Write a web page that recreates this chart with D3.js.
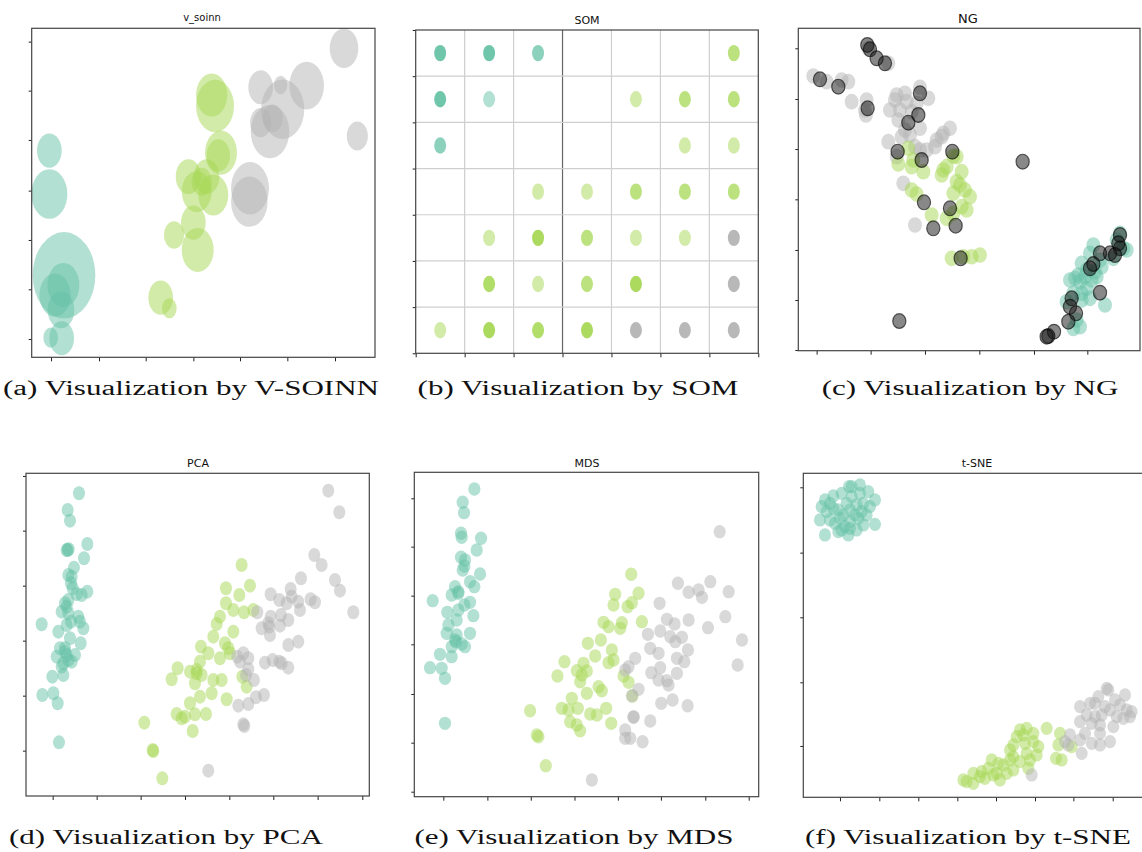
<!DOCTYPE html>
<html lang="en">
<head>
<meta charset="UTF-8">
<title>Visualization by V-SOINN, SOM, NG, PCA, MDS and t-SNE</title>
<script src="https://d3js.org/d3.v7.min.js"></script>
<style>
  body { margin: 0; background: #fff; }
  .panel-title { font-family: "DejaVu Sans", sans-serif; font-size: 11px; fill: #111; text-anchor: middle; }
  .caption { font-family: "Liberation Serif", serif; font-size: 20px; fill: #111; text-anchor: middle; }
  .tick line { stroke: #222; }
</style>
</head>
<body>
<svg id="fig" width="1142" height="852"></svg>
<script>
// class colours (setosa, versicolor, virginica)
const teal = "#66c2a5", green = "#a6d854", gray = "#b3b3b3";

// (a) v_soinn nodes: [x, y, weight]
const soinnTeal = [[14.8,64.8,13.7],[14.8,51.8,29.2],[19.2,27.4,88.4],[19.0,24.5,23],[16.5,21.5,22],[18.3,17.0,16],[18.5,8.5,13.7],[15.2,8.7,4.8]];
const soinnGreen = [[63.5,81.5,22],[64.5,78.2,32.5],[66.3,64.2,23],[65.5,63.4,12.3],[56.5,57.0,14.4],[62.0,57.0,14.4],[59.0,52.5,20],[64.0,51.5,20],[58.0,43.2,13.7],[52.2,39.5,9],[59.3,35.0,23],[48.2,20.7,13.7],[50.8,17.5,4.8],[60.5,55.5,9]];
const soinnGray = [[103.2,95.5,18.5],[78.2,83.8,13.7],[84.2,84.5,4],[92.0,84.3,27],[84.8,77.2,42],[81.0,70.5,33.6],[78.2,73.2,10],[81.8,74.5,9],[107.2,69.2,10],[75.0,53.5,32.5],[74.8,49.5,30]];
const soinnXTicks = [15.3,29.7,43.7,58.0,72.0,86.2,100.5];
const soinnYTicks = [8.3,23.2,38.0,52.8,68.0,82.8,97.5];

// (b) SOM map cells: [col, row, hits]
const somTeal = [[0,0,4],[1,0,4],[2,0,2],[0,1,4],[1,1,1],[0,2,2]];
const somGreen = [[6,0,2],[4,1,1],[5,1,2],[6,1,2],[5,2,1],[6,2,1],[2,3,1],[3,3,1],[4,3,2],[5,3,2],[6,3,2],[1,4,1],[2,4,4],[3,4,2],[4,4,1],[5,4,1],[1,5,3],[2,5,1],[3,5,2],[4,5,4],[0,6,1],[1,6,4],[2,6,3],[3,6,4]];
const somGray = [[6,4,4],[6,5,4],[4,6,4],[5,6,4],[6,6,4]];
const somTicks = [0,1,2,3,4,5,6,7];

// (c) NG
const ngGray = [[10.0,87.2],[14.0,85.5],[18.5,86.0],[20.5,85.5],[21.5,79.5],[26.0,80.0],[25.5,77.0],[25.8,75.5],[26.5,95.5],[32.5,91.0],[35.0,81.5],[37.5,82.0],[34.5,80.0],[33.0,77.0],[36.0,77.0],[38.0,79.5],[39.5,76.5],[41.0,79.0],[42.0,83.8],[44.5,80.5],[35.5,74.0],[37.5,71.0],[42.0,71.5],[39.0,69.5],[32.5,67.5],[36.5,69.0],[40.5,66.0],[44.0,65.0],[47.0,68.0],[49.0,70.0],[51.0,71.5],[46.5,66.0],[48.5,69.0],[37.0,55.0],[40.5,42.5],[35.0,63.0],[42.0,65.0]];
const ngGreen = [[38.5,65.5],[35.5,60.8],[39.5,60.0],[43.0,58.5],[40.0,62.0],[52.0,63.2],[53.0,63.0],[49.0,59.0],[48.5,57.5],[54.5,58.5],[54.0,54.5],[55.5,53.0],[52.0,52.0],[57.0,51.0],[54.5,48.0],[56.0,47.0],[50.0,44.5],[52.0,46.0],[45.5,45.5],[39.5,53.0],[41.0,51.8],[51.5,32.5],[55.0,33.0],[57.5,33.0],[60.0,33.5],[53.0,55.5],[50.0,60.0]];
const ngTeal = [[102.0,40.0],[103.0,35.5],[94.0,36.5],[93.0,34.0],[90.5,31.0],[92.0,29.0],[89.5,27.5],[88.5,26.5],[87.0,26.0],[90.0,25.5],[93.5,26.0],[95.0,27.0],[92.0,23.5],[90.5,22.0],[88.0,22.0],[90.5,20.0],[93.0,20.5],[97.5,18.5],[86.0,19.5],[89.0,14.0],[90.0,12.0],[88.0,11.5],[100.0,32.5],[104.0,35.0],[96.5,30.0],[94.5,28.5],[91.5,27.0],[96.0,32.0],[101.0,38.0]];
const ngUnits = [[26.2,96.5],[27.0,95.2],[29.0,92.5],[31.5,91.0],[12.0,86.2],[17.5,84.0],[26.3,77.5],[42.0,82.0],[41.5,75.5],[38.5,73.2],[35.3,64.5],[42.5,62.0],[51.7,64.5],[72.8,61.5],[43.2,49.3],[51.0,47.5],[46.0,41.5],[52.7,42.3],[54.2,32.5],[35.8,13.7],[102.0,39.5],[102.0,35.5],[101.5,37.0],[99.0,34.0],[96.0,34.0],[94.0,30.8],[93.0,29.5],[96.0,22.2],[87.5,20.5],[87.0,18.0],[88.8,16.0],[86.5,13.5],[82.2,10.5],[80.5,9.2],[80.0,9.0],[100.5,33.5]];
const ngXTicks = [11.0,27.2,43.5,59.8,76.2,92.2];
const ngYTicks = [5.0,20.0,35.0,50.2,65.3,80.3,95.5];

// (d) PCA
const pcaTeal = [[23.7,94.0],[20.3,89.0],[21.0,85.8],[20.3,77.0],[20.6,77.2],[26.2,78.8],[25.2,74.5],[22.2,71.7],[20.5,69.5],[21.5,69.0],[21.3,67.0],[21.8,65.5],[26.2,64.5],[24.5,63.5],[23.0,63.8],[19.5,61.0],[20.0,60.0],[18.5,58.5],[20.5,58.0],[23.5,57.0],[25.0,53.5],[20.0,54.5],[17.5,52.5],[21.3,55.5],[24.0,55.5],[12.5,54.7],[24.2,49.0],[21.0,50.5],[18.0,47.5],[19.5,46.5],[20.0,45.5],[17.0,45.0],[20.5,44.0],[22.5,45.5],[19.0,43.0],[18.5,42.0],[21.5,43.5],[15.7,39.0],[19.0,39.5],[12.7,33.5],[16.0,34.0],[17.3,31.0],[17.7,19.3],[19.5,47.5],[20.5,62.0],[20.0,77.0]];
const pcaGreen = [[72.5,72.5],[75.0,66.3],[67.8,65.5],[71.8,63.5],[67.8,61.0],[70.0,59.0],[73.2,58.3],[76.0,59.0],[66.0,57.0],[65.0,54.8],[70.0,52.5],[64.0,51.0],[67.5,49.0],[60.3,48.0],[62.5,46.0],[66.0,44.5],[69.0,46.0],[68.5,47.5],[60.0,43.5],[53.3,41.5],[51.5,38.2],[57.0,40.5],[59.0,40.0],[58.5,37.0],[60.5,39.5],[64.0,38.0],[66.5,38.0],[72.7,39.0],[74.0,36.0],[68.0,32.2],[63.5,34.0],[60.0,33.0],[57.0,31.0],[53.0,27.8],[55.5,27.0],[54.5,26.5],[58.5,27.7],[61.8,27.8],[57.8,22.7],[43.3,25.2],[45.8,17.0],[46.0,16.7],[48.7,8.5],[59.0,41.0]];
const pcaGray = [[98.5,94.8],[101.8,88.3],[94.3,75.5],[96.5,72.5],[90.3,68.5],[100.5,68.0],[102.0,64.8],[87.2,65.3],[81.2,63.7],[83.8,62.0],[87.5,63.0],[86.0,61.0],[89.5,61.5],[93.2,62.2],[94.5,61.3],[106.0,58.3],[77.2,58.3],[81.2,57.0],[84.3,57.5],[86.5,56.0],[90.0,59.0],[78.5,53.5],[80.8,54.0],[84.0,54.3],[81.0,51.5],[89.5,49.5],[86.5,48.5],[71.2,45.0],[73.0,46.0],[74.5,44.5],[72.0,43.5],[74.5,41.2],[73.8,39.5],[76.2,38.0],[79.5,43.2],[81.8,44.0],[83.8,43.5],[84.5,43.0],[86.5,41.7],[79.2,33.5],[76.8,32.8],[74.5,30.8],[71.5,30.3],[73.0,24.7],[73.3,24.2],[62.5,10.8],[80.5,55.0]];
const pcaXTicks = [15.8,29.0,42.2,55.5,68.8,82.0,95.3,108.7];
const pcaYTicks = [16.8,33.3,49.8,66.3,82.8,99.2];

// (e) MDS
const mdsTeal = [[23.8,95.3],[20.3,91.3],[20.7,88.2],[19.8,82.0],[20.0,80.8],[25.8,80.5],[24.5,77.0],[19.8,74.8],[21.0,74.0],[20.8,72.2],[20.3,71.0],[25.5,69.8],[22.5,67.5],[23.8,66.0],[18.0,66.0],[19.0,64.5],[17.0,63.5],[11.3,61.8],[22.5,61.3],[20.8,60.5],[19.0,59.0],[15.7,58.3],[23.5,57.3],[18.5,56.0],[16.0,54.5],[22.5,52.0],[18.5,51.5],[15.5,52.0],[18.0,50.0],[20.0,48.8],[17.0,48.0],[13.5,45.7],[17.0,45.0],[10.5,41.7],[14.0,41.5],[15.0,38.5],[15.0,25.0],[18.3,49.5],[21.0,48.0],[19.0,64.0]];
const mdsGreen = [[70.8,69.7],[73.0,64.0],[66.0,63.7],[71.0,61.2],[65.5,60.5],[69.7,60.0],[74.0,55.5],[62.5,55.3],[64.0,54.0],[68.0,55.2],[57.8,49.0],[61.7,50.0],[65.0,47.0],[60.0,45.2],[64.0,43.2],[65.5,44.0],[50.8,43.5],[56.5,43.0],[54.5,40.8],[57.5,40.7],[48.7,39.2],[56.0,39.5],[55.5,37.5],[61.0,36.0],[62.0,34.8],[57.5,34.0],[68.5,39.2],[70.0,37.3],[71.2,33.3],[53.0,32.5],[50.0,29.5],[52.0,29.0],[54.8,29.5],[52.5,25.5],[58.5,27.8],[60.5,27.5],[63.3,29.5],[64.8,25.0],[54.5,24.5],[55.5,22.8],[40.5,28.8],[42.5,21.5],[43.0,21.0],[45.2,12.3],[67.5,53.5]];
const mdsGray = [[97.3,82.5],[84.8,67.0],[94.5,67.5],[88.0,64.3],[91.0,65.0],[92.0,62.8],[100.0,64.5],[79.3,61.0],[81.5,56.2],[83.8,54.8],[88.0,56.0],[99.0,57.0],[93.8,53.7],[75.8,51.7],[79.5,52.7],[82.5,51.0],[86.0,50.8],[84.0,49.5],[104.0,50.0],[76.5,47.5],[79.0,46.0],[87.8,47.0],[84.5,44.5],[86.7,43.5],[72.0,44.5],[70.0,42.0],[69.0,41.0],[79.5,41.7],[76.8,40.2],[84.5,40.0],[102.7,42.5],[79.0,38.0],[81.5,37.8],[82.0,36.5],[73.0,35.2],[71.0,33.2],[79.8,31.0],[83.2,32.0],[87.7,30.3],[71.5,26.8],[76.5,25.7],[69.0,23.0],[70.5,20.5],[69.0,20.5],[74.2,19.5],[59.0,8.0],[71.5,27.0]];
const mdsXTicks = [14.5,27.7,40.7,53.8,66.8,79.7,93.0,106.0];
const mdsYTicks = [4.5,19.2,33.8,48.7,63.3,78.0,92.5];

// (f) t-SNE
const tsneTeal = [[20.7,96.0],[24.0,96.5],[26.5,94.5],[16.0,93.2],[18.5,94.0],[21.5,93.0],[24.0,94.0],[28.5,92.0],[12.5,90.0],[15.0,91.0],[20.0,91.0],[23.0,90.5],[25.0,91.0],[17.5,89.0],[21.0,89.0],[24.5,88.5],[12.0,86.0],[15.0,86.0],[18.0,86.5],[21.0,85.5],[23.5,86.5],[26.0,87.5],[28.5,84.7],[13.5,81.5],[17.5,82.5],[20.5,81.5],[23.0,83.0],[19.5,84.0],[16.5,85.0],[14.0,88.5],[22.5,87.5],[25.0,84.5],[19.0,87.5],[16.0,89.5],[27.0,90.0],[21.5,96.0],[18.5,83.0],[21.0,83.5],[13.5,92.0]];
const tsneGreen = [[56.0,7.5],[55.0,8.0],[58.0,7.0],[58.0,10.0],[60.5,10.5],[62.5,11.5],[63.5,14.0],[61.5,8.5],[65.0,10.0],[66.0,8.0],[67.0,12.5],[68.0,10.0],[70.0,11.0],[70.0,15.0],[69.0,17.0],[71.0,21.0],[72.0,23.0],[74.0,23.5],[70.0,18.5],[73.5,19.0],[76.0,19.5],[77.5,18.0],[74.0,16.0],[75.0,14.0],[77.0,15.5],[74.5,11.5],[72.0,13.5],[80.0,23.5],[83.5,18.5],[82.8,14.5],[84.5,14.0],[87.5,18.0],[84.0,22.0],[65.5,13.0],[69.0,14.0],[60.0,9.0],[64.0,9.5],[73.0,21.5],[76.0,22.0]];
const tsneGray = [[98.0,35.5],[103.5,33.5],[95.5,33.0],[100.5,32.0],[93.0,31.0],[97.5,30.0],[104.0,29.0],[105.5,28.5],[90.0,30.0],[92.0,27.5],[94.5,27.0],[96.5,27.5],[99.0,29.0],[101.0,27.0],[90.0,25.5],[93.5,25.0],[96.0,24.5],[100.0,24.0],[103.0,26.5],[105.0,27.0],[96.0,22.0],[91.5,22.0],[93.5,19.0],[96.0,18.5],[99.0,19.5],[87.0,21.5],[85.5,19.5],[90.5,16.0],[86.5,18.5],[90.0,20.0],[75.5,9.5],[98.5,35.0],[102.0,30.5],[94.5,31.0]];
const tsneXTicks = [18.0,29.8,41.5,53.2,64.8,76.5,88.0,99.8];
const tsneYTicks = [18.2,37.3,56.8,76.2,95.8];

const captions = ["(a) Visualization by V-SOINN", "(b) Visualization by SOM", "(c) Visualization by NG",
                  "(d) Visualization by PCA", "(e) Visualization by MDS", "(f) Visualization by t-SNE"];

const svg = d3.select("#fig");
let clipId = 0;

function makePanel(p) {
    const g = svg.append("g");
    const x = d3.scaleLinear().domain(p.xDomain).range([p.left, p.right]);
    const y = d3.scaleLinear().domain(p.yDomain).range(p.flipY ? [p.top, p.bottom] : [p.bottom, p.top]);

    const id = "clip" + (clipId++);
    g.append("clipPath").attr("id", id)
        .append("rect")
        .attr("x", p.left).attr("y", p.top)
        .attr("width", p.right - p.left).attr("height", p.bottom - p.top);

    g.append("g")
        .attr("transform", `translate(0,${p.bottom})`)
        .call(d3.axisBottom(x).tickValues(p.xTicks).tickFormat("").tickSize(4).tickSizeOuter(0))
        .call(a => a.select(".domain").remove());
    g.append("g")
        .attr("transform", `translate(${p.left},0)`)
        .call(d3.axisLeft(y).tickValues(p.yTicks).tickFormat("").tickSize(3).tickSizeOuter(0))
        .call(a => a.select(".domain").remove());

    const grid = g.append("g");
    const plot = g.append("g").attr("clip-path", `url(#${id})`);

    g.append("rect")
        .attr("x", p.left).attr("y", p.top)
        .attr("width", p.right - p.left).attr("height", p.bottom - p.top)
        .attr("fill", "none")
        .attr("stroke", "#444")
        .attr("stroke-width", 1.2);

    g.append("text")
        .attr("class", "panel-title")
        .attr("x", p.titleX)
        .attr("y", p.titleY)
        .style("font-size", (p.titleSize || 11) + "px")
        .text(p.title);

    return { g, x, y, grid, plot };
}

function dots(panel, data, color, rx, ry, opacity) {
    panel.plot.append("g").selectAll("ellipse")
        .data(data)
        .enter().append("ellipse")
        .attr("cx", d => panel.x(d[0]))
        .attr("cy", d => panel.y(d[1]))
        .attr("rx", rx)
        .attr("ry", ry)
        .attr("fill", color)
        .attr("fill-opacity", opacity);
}

// (a) v_soinn
const pa = makePanel({
    left: 31.7, right: 375, top: 28.3, bottom: 357.3,
    xDomain: [9.5, 112.5], yDomain: [2.8, 101.5],
    xTicks: soinnXTicks, yTicks: soinnYTicks,
    title: "v_soinn", titleX: 202, titleY: 21, titleSize: 10
});
const nodeR = d3.scaleSqrt().domain([0, 100]).range([0, 33.3]);
[[soinnTeal, teal], [soinnGreen, green], [soinnGray, gray]].forEach(([data, color]) => {
    pa.plot.append("g").selectAll("ellipse")
        .data(data)
        .enter().append("ellipse")
        .attr("cx", d => pa.x(d[0]))
        .attr("cy", d => pa.y(d[1]))
        .attr("rx", d => nodeR(d[2]))
        .attr("ry", d => nodeR(d[2]) * 1.38)
        .attr("fill", color)
        .attr("fill-opacity", 0.5);
});

// (b) SOM
const pb = makePanel({
    left: 415.7, right: 758.3, top: 30, bottom: 353.3,
    xDomain: [0, 7], yDomain: [0, 7], flipY: true,
    xTicks: somTicks, yTicks: somTicks,
    title: "SOM", titleX: 587, titleY: 24
});
pb.grid.selectAll("line.gx")
    .data(somTicks.slice(1, -1))
    .enter().append("line")
    .attr("class", "gx")
    .attr("x1", d => pb.x(d)).attr("x2", d => pb.x(d))
    .attr("y1", pb.y(0)).attr("y2", pb.y(7))
    .attr("stroke", d => d === 3 ? "#666" : "#cfcfcf")
    .attr("stroke-width", 1.2);
pb.grid.selectAll("line.gy")
    .data(somTicks.slice(1, -1))
    .enter().append("line")
    .attr("class", "gy")
    .attr("x1", pb.x(0)).attr("x2", pb.x(7))
    .attr("y1", d => pb.y(d)).attr("y2", d => pb.y(d))
    .attr("stroke", "#cfcfcf")
    .attr("stroke-width", 1.2);
[[somTeal, teal], [somGreen, green], [somGray, gray]].forEach(([data, color]) => {
    pb.plot.append("g").selectAll("ellipse")
        .data(data)
        .enter().append("ellipse")
        .attr("cx", d => pb.x(d[0] + 0.5))
        .attr("cy", d => pb.y(d[1] + 0.5))
        .attr("rx", 6)
        .attr("ry", 8.2)
        .attr("fill", color)
        .attr("fill-opacity", d => 1 - Math.pow(0.5, d[2]));
});

// (c) NG
const pc = makePanel({
    left: 798.3, right: 1140, top: 28.3, bottom: 350.7,
    xDomain: [5.5, 108.0], yDomain: [4.8, 101.5],
    xTicks: ngXTicks, yTicks: ngYTicks,
    title: "NG", titleX: 968, titleY: 23, titleSize: 13
});
dots(pc, ngGray, gray, 7, 7.8, 0.5);
dots(pc, ngGreen, green, 7, 7.8, 0.5);
dots(pc, ngTeal, teal, 7, 7.8, 0.5);
pc.plot.append("g").selectAll("ellipse")
    .data(ngUnits)
    .enter().append("ellipse")
    .attr("cx", d => pc.x(d[0]))
    .attr("cy", d => pc.y(d[1]))
    .attr("rx", 6.6)
    .attr("ry", 7.4)
    .attr("fill", "#111")
    .attr("fill-opacity", 0.5)
    .attr("stroke", "#000")
    .attr("stroke-opacity", 0.6)
    .attr("stroke-width", 1.2);

// (d) PCA
const pd = makePanel({
    left: 26, right: 369.3, top: 473.3, bottom: 796,
    xDomain: [7.8, 110.8], yDomain: [3.2, 100.0],
    xTicks: pcaXTicks, yTicks: pcaYTicks,
    title: "PCA", titleX: 198, titleY: 467
});
dots(pd, pcaTeal, teal, 6, 7, 0.5);
dots(pd, pcaGreen, green, 6, 7, 0.5);
dots(pd, pcaGray, gray, 6, 7, 0.5);

// (e) MDS
const pe = makePanel({
    left: 414.3, right: 758.7, top: 472.3, bottom: 796.7,
    xDomain: [5.8, 109.0], yDomain: [3.0, 100.3],
    xTicks: mdsXTicks, yTicks: mdsYTicks,
    title: "MDS", titleX: 587, titleY: 466.5
});
dots(pe, mdsTeal, teal, 6.1, 6.7, 0.5);
dots(pe, mdsGreen, green, 6.1, 6.7, 0.5);
dots(pe, mdsGray, gray, 6.1, 6.7, 0.5);

// (f) t-SNE
const pf = makePanel({
    left: 803.3, right: 1146.7, top: 473.3, bottom: 797.3,
    xDomain: [7.0, 110.0], yDomain: [2.8, 100.0],
    xTicks: tsneXTicks, yTicks: tsneYTicks,
    title: "t-SNE", titleX: 977, titleY: 467
});
dots(pf, tsneTeal, teal, 6, 6.6, 0.5);
dots(pf, tsneGreen, green, 6, 6.6, 0.5);
dots(pf, tsneGray, gray, 6, 6.6, 0.5);

// captions (serif, stretched to the width of the LaTeX captions)
const capX = [191, 578, 970, 166, 574, 968];
const capY = [395, 395, 395, 844, 844, 844];
const capNodes = svg.selectAll("text.caption")
    .data(captions)
    .enter().append("text")
    .attr("class", "caption")
    .attr("x", (d, i) => capX[i])
    .attr("y", (d, i) => capY[i])
    .text(d => d);
const k = 376 / capNodes.node().getComputedTextLength();
capNodes.each(function() {
    const w = this.getComputedTextLength();
    d3.select(this).attr("textLength", w * k).attr("lengthAdjust", "spacingAndGlyphs");
});
</script>
</body>
</html>
